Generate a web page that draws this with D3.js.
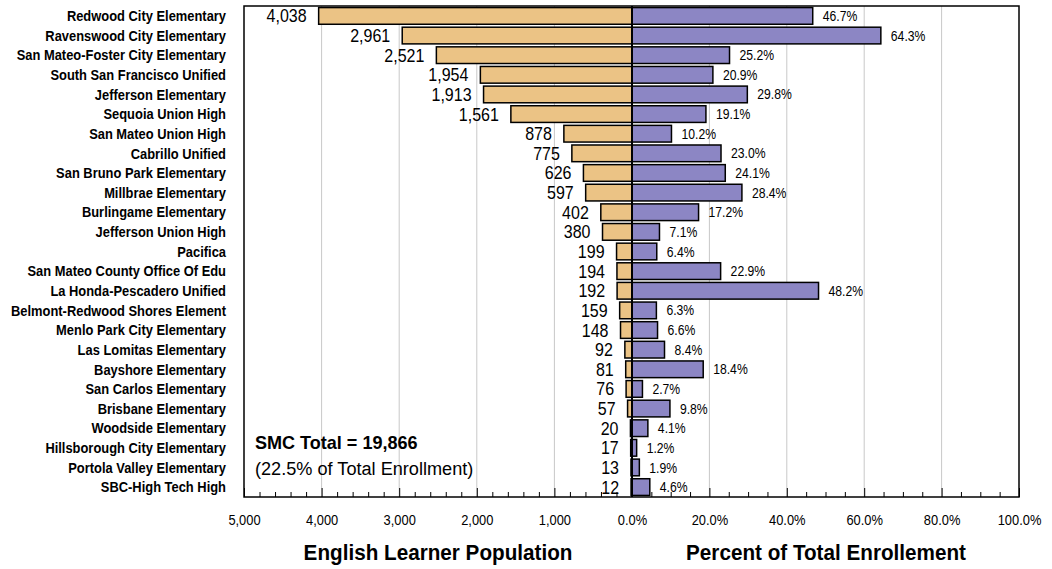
<!DOCTYPE html>
<html>
<head>
<meta charset="utf-8">
<script src="https://cdn.jsdelivr.net/npm/d3@7"></script>
<style>
  html, body { margin: 0; padding: 0; background: #fff; }
  svg { display: block; }
  text { font-family: 'Liberation Sans', Arial, sans-serif; fill: #000; }
</style>
</head>
<body>
<svg id="chart" width="1052" height="569"></svg>
<script>
const districts = [
  "Redwood City Elementary", "Ravenswood City Elementary", "San Mateo-Foster City Elementary",
  "South San Francisco Unified", "Jefferson Elementary", "Sequoia Union High", "San Mateo Union High",
  "Cabrillo Unified", "San Bruno Park Elementary", "Millbrae Elementary", "Burlingame Elementary",
  "Jefferson Union High", "Pacifica", "San Mateo County Office Of Edu", "La Honda-Pescadero Unified",
  "Belmont-Redwood Shores Element", "Menlo Park City Elementary", "Las Lomitas Elementary",
  "Bayshore Elementary", "San Carlos Elementary", "Brisbane Elementary", "Woodside Elementary",
  "Hillsborough City Elementary", "Portola Valley Elementary", "SBC-High Tech High"
];
const learners = [4038, 2961, 2521, 1954, 1913, 1561, 878, 775, 626, 597, 402, 380, 199, 194, 192, 159, 148, 92, 81, 76, 57, 20, 17, 13, 12];
const percents = [46.7, 64.3, 25.2, 20.9, 29.8, 19.1, 10.2, 23.0, 24.1, 28.4, 17.2, 7.1, 6.4, 22.9, 48.2, 6.3, 6.6, 8.4, 18.4, 2.7, 9.8, 4.1, 1.2, 1.9, 4.6];
const leftTicks = [5000, 4000, 3000, 2000, 1000];
const rightTicks = [0, 20, 40, 60, 80, 100];
const leftTitle = "English Learner Population";
const rightTitle = "Percent of Total Enrollement";
const totalLine1 = "SMC Total = 19,866";
const totalLine2 = "(22.5% of Total Enrollment)";

const svg = d3.select("#chart");
const L = 244, C = 632, R = 1019, T = 6, B = 497;
const orange = "#ebc385", purple = "#8c86c4";

const xL = d3.scaleLinear().domain([5000, 0]).range([L, C]);
const xR = d3.scaleLinear().domain([0, 100]).range([C, R]);
const y = d3.scaleBand().domain(districts).range([T, B]).paddingInner(0.15).paddingOuter(0.08);

// narrow-text helper: horizontally compressed text anchored at (fx, fy)
const nt = (sel, fx, fy, k) => sel.attr("transform", (d, i) => `translate(${fx(d, i)},${fy(d, i)}) scale(${k},1)`);

// gridlines
const g = svg.append("g");
g.selectAll("line.gl").data(leftTicks.slice(1)).join("line")
  .attr("x1", d => xL(d)).attr("x2", d => xL(d)).attr("y1", T).attr("y2", B)
  .attr("stroke", "#c8c8c8").attr("stroke-width", 1);
g.selectAll("line.gr").data(rightTicks.slice(1, -1)).join("line")
  .attr("x1", d => xR(d)).attr("x2", d => xR(d)).attr("y1", T).attr("y2", B)
  .attr("stroke", "#c8c8c8").attr("stroke-width", 1);

// axes (ticks inward)
const axL = svg.append("g").attr("transform", `translate(0,${B})`)
  .call(d3.axisBottom(xL).tickValues(leftTicks).tickFormat(d3.format(",")).tickSizeInner(-9).tickSizeOuter(0).tickPadding(17));
const axLm = svg.append("g").attr("transform", `translate(0,${B})`)
  .call(d3.axisBottom(xL).tickValues(d3.range(200, 5000, 200).filter(v => v % 1000 !== 0)).tickFormat("").tickSizeInner(-5).tickSizeOuter(0));
const axR = svg.append("g").attr("transform", `translate(0,${B})`)
  .call(d3.axisBottom(xR).tickValues(rightTicks).tickFormat(d => d.toFixed(1) + "%").tickSizeInner(-9).tickSizeOuter(0).tickPadding(17));
const axRm = svg.append("g").attr("transform", `translate(0,${B})`)
  .call(d3.axisBottom(xR).tickValues(d3.range(5, 100, 5).filter(v => v % 20 !== 0)).tickFormat("").tickSizeInner(-5).tickSizeOuter(0));
[axL, axLm, axR, axRm].forEach(a => {
  a.select(".domain").remove();
  a.selectAll("line").attr("stroke", "#000").attr("stroke-width", 1);
  a.selectAll("text").attr("font-size", 15).attr("transform", "scale(0.86,1)")
    .style("font-family", "'Liberation Sans', Arial, sans-serif");
});

// bars
svg.append("g").selectAll("rect").data(districts).join("rect")
  .attr("x", (d, i) => xL(learners[i])).attr("y", d => y(d))
  .attr("width", (d, i) => C - xL(learners[i])).attr("height", y.bandwidth())
  .attr("fill", orange).attr("stroke", "#000").attr("stroke-width", 1.5);
svg.append("g").selectAll("rect").data(districts).join("rect")
  .attr("x", C).attr("y", d => y(d))
  .attr("width", (d, i) => xR(percents[i]) - C).attr("height", y.bandwidth())
  .attr("fill", purple).attr("stroke", "#000").attr("stroke-width", 1.5);

// value labels
nt(svg.append("g").selectAll("text").data(districts).join("text"),
   (d, i) => xL(learners[i]) - 12, d => y(d) + y.bandwidth() / 2, 0.89)
  .attr("dy", "0.36em").attr("text-anchor", "end").attr("font-size", 18)
  .text((d, i) => d3.format(",")(learners[i]));
nt(svg.append("g").selectAll("text").data(districts).join("text"),
   (d, i) => xR(percents[i]) + 10, d => y(d) + y.bandwidth() / 2, 0.87)
  .attr("dy", "0.36em").attr("text-anchor", "start").attr("font-size", 14)
  .text((d, i) => percents[i].toFixed(1) + "%");

// category labels
nt(svg.append("g").selectAll("text").data(districts).join("text"),
   () => 226, d => y(d) + y.bandwidth() / 2, 0.89)
  .attr("dy", "0.36em").attr("text-anchor", "end").attr("font-size", 14.5).attr("font-weight", "bold")
  .text(d => d);

// frame and center line
svg.append("rect").attr("x", L).attr("y", T).attr("width", R - L).attr("height", B - T)
  .attr("fill", "none").attr("stroke", "#000").attr("stroke-width", 1.5);
svg.append("line").attr("x1", C).attr("x2", C).attr("y1", T).attr("y2", B)
  .attr("stroke", "#000").attr("stroke-width", 2);

// total annotation
nt(svg.append("text").datum(0), () => 255, () => 449, 0.95).attr("font-size", 19).attr("font-weight", "bold").text(totalLine1);
nt(svg.append("text").datum(0), () => 255, () => 475, 0.955).attr("font-size", 19).text(totalLine2);

// titles
nt(svg.append("text").datum(0), () => 438, () => 560, 0.94).attr("text-anchor", "middle")
  .attr("font-size", 22).attr("font-weight", "bold").text(leftTitle);
nt(svg.append("text").datum(0), () => 826, () => 560, 0.94).attr("text-anchor", "middle")
  .attr("font-size", 22).attr("font-weight", "bold").text(rightTitle);
</script>
</body>
</html>
